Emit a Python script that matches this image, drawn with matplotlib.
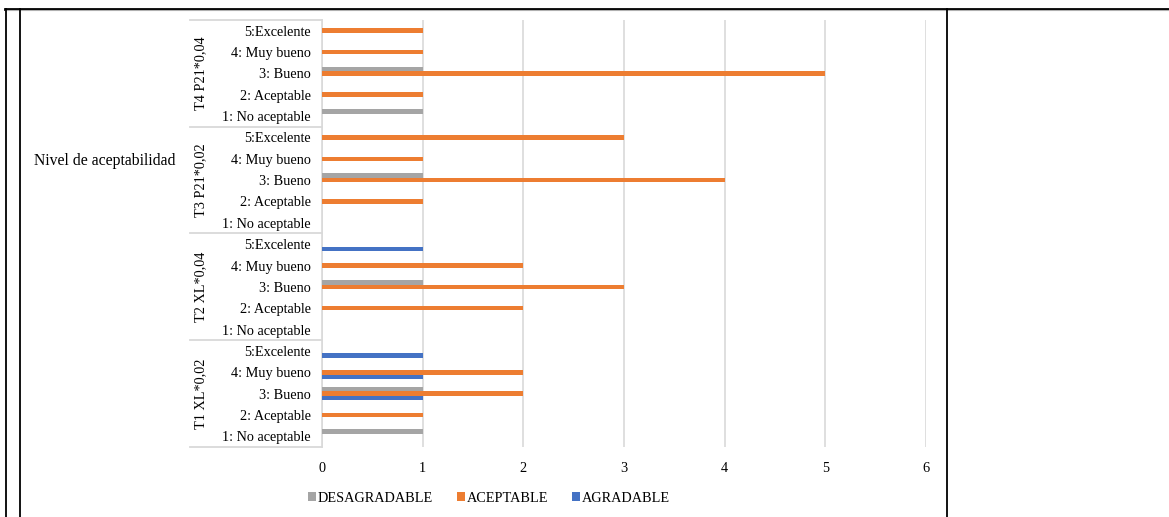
import matplotlib
matplotlib.use("Agg")
import matplotlib.pyplot as plt
from matplotlib.lines import Line2D
from matplotlib.patches import Patch
import numpy as np

plt.rcParams['font.family'] = ['Liberation Serif', 'DejaVu Serif']

# ---- data (bottom group first, category 1..5 within each group) ----
groups = ["T1 XL*0,02", "T2 XL*0,04", "T3 P21*0,02", "T4 P21*0,04"]
levels = ["1: No aceptable", "2: Aceptable", "3: Bueno", "4: Muy bueno", "5:Excelente"]
series_names = ["DESAGRADABLE", "ACEPTABLE", "AGRADABLE"]
desagradable = [1, 0, 1, 0, 0,   0, 0, 1, 0, 0,   0, 0, 1, 0, 0,   1, 0, 1, 0, 0]
aceptable    = [0, 1, 2, 2, 0,   0, 2, 3, 2, 0,   0, 1, 4, 1, 3,   0, 1, 5, 1, 1]
agradable    = [0, 0, 1, 1, 1,   0, 0, 0, 0, 1,   0, 0, 0, 0, 0,   0, 0, 0, 0, 0]
xticks = [0, 1, 2, 3, 4, 5, 6]
colors = ["#A5A5A5", "#ED7D31", "#4472C4"]

W, H = 1169, 517
fig = plt.figure(figsize=(W / 100, H / 100), dpi=100)

def fx(px):
    return px / W

def fy(py):
    return 1 - py / H

FS = 10.3
x0, x1 = 322, 926
y_top, y_bot = 20, 447
ax = fig.add_axes([fx(x0), fy(y_bot), fx(x1) - fx(x0), fy(y_top) - fy(y_bot)])

n = len(groups) * len(levels)
ypos = np.arange(n)
bh = 0.21
off = 0.215
ax.barh(ypos + off, desagradable, height=bh, color=colors[0], zorder=3)
ax.barh(ypos, aceptable, height=bh, color=colors[1], zorder=3)
ax.barh(ypos - off, agradable, height=bh, color=colors[2], zorder=3)

ax.set_xlim(0, 6)
ax.set_ylim(-0.5, n - 0.5)
ax.set_xticks(xticks)
ax.set_xticklabels([str(t) for t in xticks])
ax.set_yticks(ypos)
ax.set_yticklabels(levels * len(groups))
ax.tick_params(axis='y', length=0, pad=8, labelsize=FS)
ax.tick_params(axis='x', length=0, pad=11, labelsize=FS)
for s in ['top', 'right', 'bottom']:
    ax.spines[s].set_visible(False)
ax.spines['left'].set_color('#d9d9d9')
ax.spines['left'].set_linewidth(1.2)
ax.grid(axis='x', color='#d9d9d9', linewidth=1.2, zorder=0)
ax.set_axisbelow(True)

# group separators and labels
xl = (190 - x0) / (x1 - x0)
tr = ax.get_yaxis_transform()
for k in range(len(groups) + 1):
    yb = k * len(levels) - 0.5
    ax.plot([xl, 0], [yb, yb], transform=tr, color='#d9d9d9', lw=1.3, clip_on=False)
for k, g in enumerate(groups):
    yc = k * len(levels) + (len(levels) - 1) / 2
    ax.text((201 - x0) / (x1 - x0), yc, g, transform=tr, rotation=90,
            ha='center', va='center', fontsize=FS)

fig.text(fx(105), fy(161), "Nivel de aceptabilidad", ha='center', va='center', fontsize=11.3)

# legend
handles = [Patch(facecolor=c, edgecolor='none') for c in colors]
fig.legend(handles, series_names, loc='center', bbox_to_anchor=(fx(489), fy(498)),
           ncol=3, frameon=False, fontsize=FS, handlelength=0.55, handleheight=0.55,
           handletextpad=0.15, columnspacing=1.65)

# table borders
fig.add_artist(Line2D([fx(5), 1], [fy(8.5), fy(8.5)], color='black', lw=2))
fig.add_artist(Line2D([fx(5), 1], [fy(10), fy(10)], color='#b0b0b0', lw=0.8))
for xv in (6, 20, 947):
    fig.add_artist(Line2D([fx(xv), fx(xv)], [fy(9), 0], color='black', lw=1.3))

fig.savefig("out.png", dpi=100)
